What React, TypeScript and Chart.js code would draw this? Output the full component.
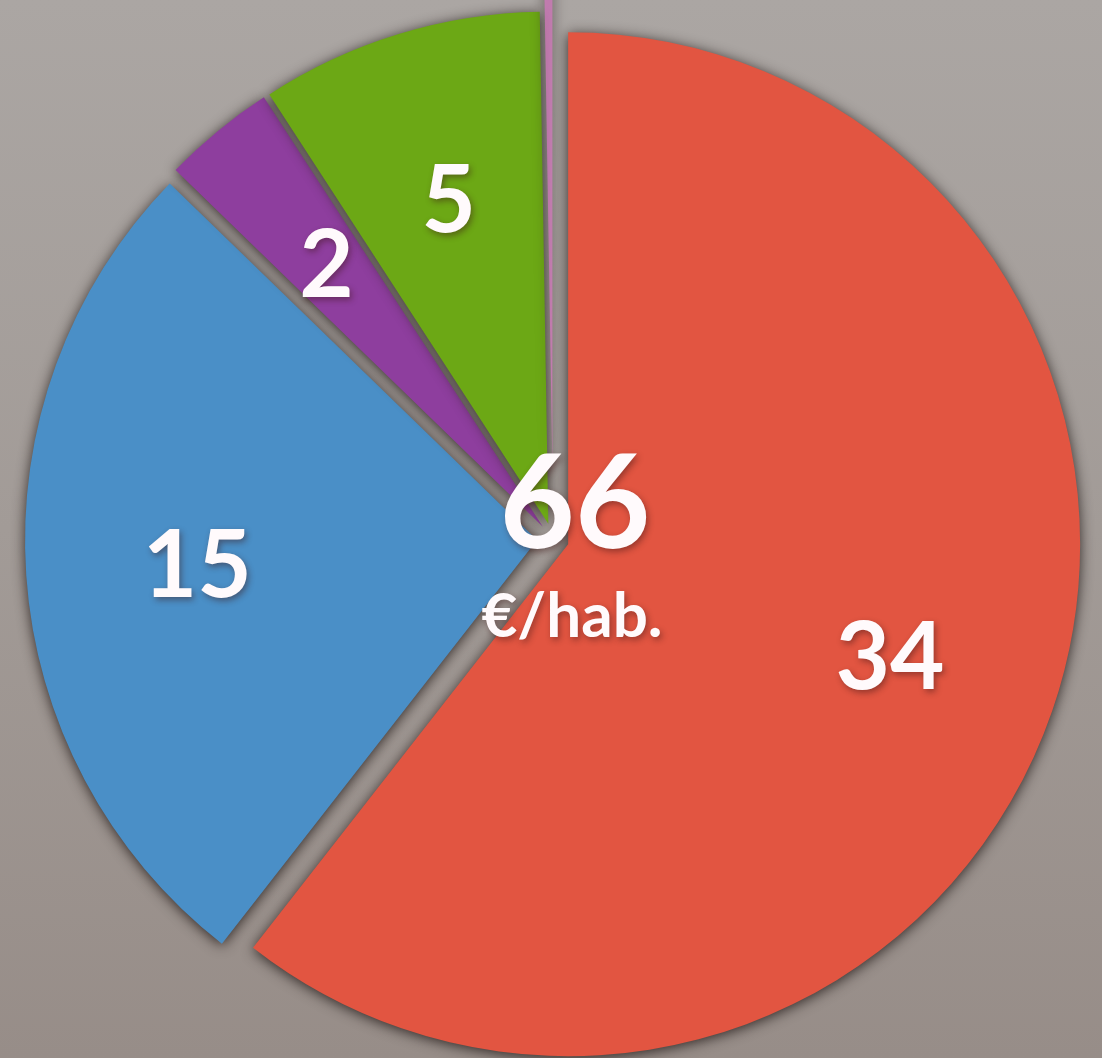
import React, { useEffect, useRef } from "react";
import { Chart, registerables } from "chart.js";

Chart.register(...registerables);

const categories = ["Autre", "Rouge", "Bleu", "Violet", "Vert"];
const values = [0.15, 34, 15, 2, 5];
const colors = ["rgba(222,120,200,0.65)", "#e25541", "#4a8fc7", "#8e3e9e", "#6ca815"];
const sliceLabels = ["", "34", "15", "2", "5"];
const totalLabel = "66";
const unitLabel = "€/hab.";

const EXPLODE = [70, 16, 16, 16, 16];
const DRAW_ORDER = [1, 2, 3, 4, 0];
const CANVAS = 1200;
const CX = 553;
const CY = 539;

const labelPlugin = {
  id: "sliceLabels",
  beforeDatasetDraw(chart: any) {
    const ctx = chart.ctx;
    const meta = chart.getDatasetMeta(0);
    DRAW_ORDER.forEach((i) => {
      const arc = meta.data[i];
      if (!arc) return;
      const p = arc.getProps(["startAngle", "endAngle"], true);
      const mid = (p.startAngle + p.endAngle) / 2;
      ctx.save();
      ctx.shadowColor = "rgba(30,22,20,0.85)";
      ctx.shadowBlur = 13;
      ctx.shadowOffsetX = 0;
      ctx.shadowOffsetY = 2;
      ctx.translate(Math.cos(mid) * EXPLODE[i], Math.sin(mid) * EXPLODE[i]);
      arc.draw(ctx);
      ctx.restore();
    });
    return false;
  },
  afterDatasetsDraw(chart: any) {
    const ctx = chart.ctx;
    const meta = chart.getDatasetMeta(0);
    ctx.save();
    ctx.fillStyle = "#fffafc";
    ctx.shadowColor = "rgba(60,20,20,0.45)";
    ctx.shadowBlur = 6;
    ctx.shadowOffsetX = 2;
    ctx.shadowOffsetY = 3;
    ctx.textAlign = "center";
    ctx.textBaseline = "alphabetic";
    const fs = 94;
    ctx.font = `bold ${fs}px Lato, "DejaVu Sans", sans-serif`;
    meta.data.forEach((arc: any, i: number) => {
      const txt = sliceLabels[i];
      if (!txt) return;
      const p = arc.getProps(["x", "y", "startAngle", "endAngle", "outerRadius"], true);
      const mid = (p.startAngle + p.endAngle) / 2;
      const d = EXPLODE[i] + 0.665 * p.outerRadius;
      const x = p.x + Math.cos(mid) * d;
      const y = p.y + Math.sin(mid) * d;
      ctx.fillText(txt, x, y + 0.36 * fs);
    });
    const c = meta.data[1].getProps(["x", "y"], true);
    ctx.font = `bold 130px Lato, "DejaVu Sans", sans-serif`;
    ctx.fillText(totalLabel, c.x + 22, c.y + 9);
    ctx.font = `bold 62px Lato, "DejaVu Sans", sans-serif`;
    ctx.fillText(unitLabel, c.x + 19, c.y + 98);
    ctx.restore();
  },
};

export default function App() {
  const ref = useRef<HTMLCanvasElement | null>(null);
  useEffect(() => {
    if (!ref.current) return;
    const total = values.reduce((a, b) => a + b, 0);
    const chart = new Chart(ref.current, {
      type: "pie",
      data: {
        labels: categories,
        datasets: [
          {
            data: values,
            backgroundColor: colors,
            borderWidth: 0,
            offset: 0,
            hoverOffset: 0,
            radius: 512,
          } as any,
        ],
      },
      options: {
        animation: false,
        responsive: false,
        events: [],
        rotation: -(values[0] / total) * 360,
        layout: { padding: 0 },
        plugins: { legend: { display: false }, tooltip: { enabled: false } },
      },
      plugins: [labelPlugin],
    });
    return () => chart.destroy();
  }, []);
  return (
    <div
      style={{
        position: "fixed",
        left: 0,
        top: 0,
        width: 1102,
        height: 1058,
        overflow: "hidden",
        background: "linear-gradient(to bottom, #aba6a3 0%, #a29b97 50%, #978d88 100%)",
      }}
    >
      <canvas
        ref={ref}
        width={CANVAS}
        height={CANVAS}
        style={{ position: "absolute", left: CX - CANVAS / 2, top: CY - CANVAS / 2, width: CANVAS, height: CANVAS }}
      />
    </div>
  );
}
